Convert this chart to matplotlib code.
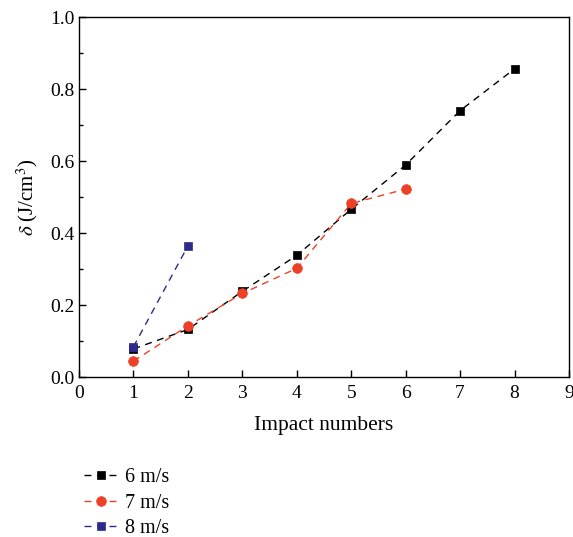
import numpy as np
import matplotlib.pyplot as plt

plt.rcParams['font.family'] = ['Liberation Serif', 'DejaVu Serif']
plt.rcParams['mathtext.fontset'] = 'stix'

# impact energy density
x6 = [1, 2, 3, 4, 5, 6, 7, 8]
y6 = [0.078, 0.132, 0.238, 0.338, 0.466, 0.589, 0.740, 0.856]
x7 = [1, 2, 3, 4, 5, 6]
y7 = [0.044, 0.142, 0.232, 0.302, 0.482, 0.522]
x8 = [1, 2]
y8 = [0.084, 0.364]
labels = ['6 m/s', '7 m/s', '8 m/s']

fig = plt.figure(figsize=(5.73, 5.37), dpi=100)
ax = fig.add_axes([79/573, 1 - 377/537, 490/573, 360/537])

dash = (0, (5, 4))
ax.plot(x6, y6, color='black', ls=dash, lw=1, marker='s', ms=6, mew=0.5, label=labels[0])
ax.plot(x7, y7, color='#EE4026', ls=dash, lw=1, marker='o', ms=7, mew=0.5, label=labels[1])
ax.plot(x8, y8, color='#2E2A8C', ls=dash, lw=1, marker='s', ms=6, mew=0.5, label=labels[2])

ax.set_xlim(0, 9)
ax.set_ylim(0, 1.0)
ax.set_xticks(range(10))
ax.set_yticks(np.arange(0, 1.01, 0.2))
ax.set_yticks(np.arange(0.1, 1.0, 0.2), minor=True)
ax.yaxis.set_major_formatter(plt.FormatStrFormatter('%.1f'))
ax.tick_params(direction='in', which='major', length=5, width=1, labelsize=14)
ax.tick_params(direction='in', which='minor', length=3, width=1)
ax.tick_params(axis='x', pad=6)
for s in ax.spines.values():
    s.set_linewidth(1)

ax.set_xlabel('Impact numbers', fontsize=15.5, labelpad=10)
ax.set_ylabel(r'$\delta$ (J/cm$^3$)', fontsize=15, labelpad=7)

fig.legend(loc='upper left', bbox_to_anchor=(66/573, 1 - 450/537), frameon=False,
           fontsize=14.5, handlelength=1.7, labelspacing=0.32, handletextpad=0.35)

fig.savefig('out.png', dpi=100)
